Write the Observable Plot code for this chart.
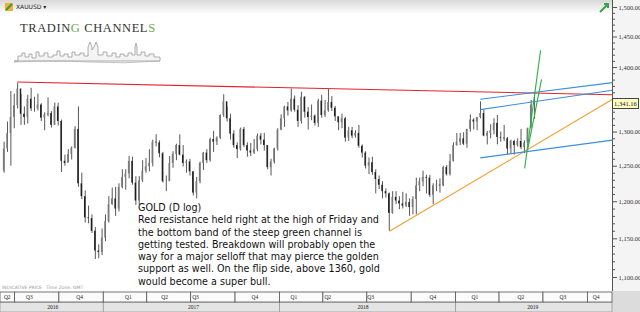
<!DOCTYPE html>
<html><head><meta charset="utf-8">
<script src="https://cdn.jsdelivr.net/npm/d3@7"></script>
<script src="https://cdn.jsdelivr.net/npm/@observablehq/plot@0.6"></script>
<style>
body{margin:0;background:#fff;}
#wrap{position:relative;width:640px;height:312px;overflow:hidden;background:#fff;}
#wrap > svg{position:absolute;left:0;background:transparent;}
.ov{position:absolute;white-space:nowrap;}
.ov svg{display:block;}
</style></head><body><div id="wrap">
<div class="ov" style="left:0;top:0;width:612px;height:14px;background:linear-gradient(#d8d8d8,#ffffff);"></div>
<div class="ov" style="left:612px;top:0;width:28px;height:291px;background:#f4f4f4;"></div>
<div class="ov" style="left:612px;top:291px;width:28px;height:21px;background:#dcdcdc;"></div>
</div>
<script>
// ---------------- data ----------------
const symbol = "XAUUSD";
const firstOpen = 1243;
const weekEnd = [
"2016-06-10","2016-06-17","2016-06-24","2016-07-01","2016-07-08","2016-07-15","2016-07-22","2016-07-29","2016-08-05","2016-08-12","2016-08-19","2016-08-26","2016-09-02","2016-09-09","2016-09-16","2016-09-23","2016-09-30","2016-10-07","2016-10-14","2016-10-21","2016-10-28","2016-11-04","2016-11-11","2016-11-18","2016-11-25","2016-12-02","2016-12-09","2016-12-16","2016-12-23","2016-12-30",
"2017-01-06","2017-01-13","2017-01-20","2017-01-27","2017-02-03","2017-02-10","2017-02-17","2017-02-24","2017-03-03","2017-03-10","2017-03-17","2017-03-24","2017-03-31","2017-04-07","2017-04-14","2017-04-21","2017-04-28","2017-05-05","2017-05-12","2017-05-19","2017-05-26","2017-06-02","2017-06-09","2017-06-16","2017-06-23","2017-06-30","2017-07-07","2017-07-14","2017-07-21","2017-07-28","2017-08-04","2017-08-11","2017-08-18","2017-08-25","2017-09-01","2017-09-08","2017-09-15","2017-09-22","2017-09-29","2017-10-06","2017-10-13","2017-10-20","2017-10-27","2017-11-03","2017-11-10","2017-11-17","2017-11-24","2017-12-01","2017-12-08","2017-12-15","2017-12-22","2017-12-29",
"2018-01-05","2018-01-12","2018-01-19","2018-01-26","2018-02-02","2018-02-09","2018-02-16","2018-02-23","2018-03-02","2018-03-09","2018-03-16","2018-03-23","2018-03-30","2018-04-06","2018-04-13","2018-04-20","2018-04-27","2018-05-04","2018-05-11","2018-05-18","2018-05-25","2018-06-01","2018-06-08","2018-06-15","2018-06-22","2018-06-29","2018-07-06","2018-07-13","2018-07-20","2018-07-27","2018-08-03","2018-08-10","2018-08-17","2018-08-24","2018-08-31","2018-09-07","2018-09-14","2018-09-21","2018-09-28","2018-10-05","2018-10-12","2018-10-19","2018-10-26","2018-11-02","2018-11-09","2018-11-16","2018-11-23","2018-11-30","2018-12-07","2018-12-14","2018-12-21","2018-12-28",
"2019-01-04","2019-01-11","2019-01-18","2019-01-25","2019-02-01","2019-02-08","2019-02-15","2019-02-22","2019-03-01","2019-03-08","2019-03-15","2019-03-22","2019-03-29","2019-04-05","2019-04-12","2019-04-19","2019-04-26","2019-05-03","2019-05-10","2019-05-17","2019-05-24","2019-05-31","2019-06-07","2019-06-14"];
const weekHigh = [
1285,1315,1362,1358,1375,1357,1338,1356,1367,1353,1358,1343,1329,1352,1331,1344,1344,1318,1266,1274,1278,1308,1338,1240,1215,1194,1182,1165,1142,1163,
1182,1207,1219,1220, 1225,1245,1245,1264, 1263,1235,1235,1258,1261, 1274,1288,1296,1287, 1270,1236,1264,1271, 1282,1296,1280,1259,1260, 1242,1234,1256,1270, 1274,1291,1301,1293, 1326,1357,1338,1327,1302, 1284,1306,1307,1284, 1283,1289,1297,1298, 1298,1280,1260,1276,1305,
1326,1339,1345,1366, 1355,1340,1361,1354, 1337,1341,1326,1350,1356, 1348,1365,1354,1339, 1323,1327,1322,1307, 1307,1302,1310,1281,1271, 1262,1263,1245,1236, 1228,1218,1212,1214,1214, 1207,1213,1211,1204, 1207,1233,1233,1243, 1237,1237,1225,1230,1232, 1250,1251,1267,1284,
1298,1298,1299,1304, 1326,1320,1322,1346, 1333,1301,1311,1320,1325, 1300,1310,1292,1288, 1288,1290,1304,1287,1306, 1348,1358];
const weekLow = [
1240,1270,1250,1305,1335,1310,1310,1312,1331,1330,1332,1316,1302,1323,1306,1310,1309,1241,1250,1255,1259,1275,1220,1203,1171,1170,1157,1123,1124,1128,
1146,1171,1195,1180, 1186,1218,1216,1232, 1223,1195,1196,1227,1240, 1242,1249,1278,1262, 1226,1214,1228,1247, 1258,1265,1249,1240,1236, 1208,1204,1225,1244, 1254,1256,1270,1280, 1289,1322,1315,1288,1276, 1261,1272,1277,1263, 1264,1267,1271,1281, 1272,1245,1236,1253,1272,
1302,1307,1324,1330, 1330,1307,1312,1321, 1303,1317,1309,1307,1321, 1322,1330,1331,1316, 1302,1305,1285,1286, 1290,1291,1276,1262,1246, 1238,1237,1211,1217, 1204,1205,1160,1183,1196, 1189,1190,1192,1180, 1182,1182,1214,1221, 1211,1206,1196,1214,1212, 1221,1236,1236,1256,
1279,1280,1280,1276, 1300,1303,1302,1320, 1293,1281,1290,1296,1281, 1285,1286,1266,1268, 1266,1278,1274,1268,1279, 1306,1319];
const weekClose = [
1275,1298,1322,1340,1366,1327,1322,1350,1335,1335,1341,1321,1326,1328,1310,1338,1316,1257,1254,1267,1276,1304,1225,1207,1178,1177,1160,1134,1132,1151,
1173,1196,1204,1190, 1220,1234,1239,1257, 1226,1201,1229,1243,1249, 1254,1285,1284,1268, 1228,1228,1254,1267, 1280,1266,1254,1256,1242, 1212,1228,1254,1269, 1258,1289,1285,1291, 1325,1346,1320,1297,1280, 1274,1304,1280,1272, 1269,1274,1294,1288, 1280,1248,1256,1275,1303,
1320,1338,1332,1350, 1333,1316,1353,1330, 1322,1324,1313,1347,1325, 1332,1345,1336,1323, 1314,1320,1291,1302, 1294,1298,1279,1269,1250, 1255,1241,1231,1223, 1214,1211,1184,1206,1201, 1197,1194,1199,1192, 1203,1222,1228,1234, 1233,1209,1222,1223,1222, 1248,1238,1257,1280,
1285,1290,1282,1304, 1318,1315,1322,1328, 1294,1298,1302,1313,1292, 1291,1290,1275,1286, 1280,1286,1277,1284,1305, 1341,1341.16];
const lastPrice = 1341.16;

// trend lines (date, price) pairs
const trendNames      = ["resistance","support","blueTop","blueMid","blueLow","greenA","greenB"];
const trendStartDate  = ["2016-07-06","2018-08-16","2019-02-20","2019-02-20","2019-02-20","2019-05-23","2019-05-29"];
const trendStartPrice = [1377, 1160, 1350, 1334, 1262, 1247, 1273];
const trendEndDate    = ["2019-11-21","2019-11-21","2019-11-21","2019-11-21","2019-11-21","2019-06-25","2019-06-27"];
const trendEndPrice   = [1357, 1350, 1376, 1364, 1288, 1428, 1381];

// axis ticks / labels
const priceTicks = [1100,1150,1200,1250,1300,1350,1400,1450,1500];
const quarterLabels = ["Q2","Q3","Q4","Q1","Q2","Q3","Q4","Q1","Q2","Q3","Q4","Q1","Q2","Q3","Q4"];
const quarterLabelDates = ["2016-06-15","2016-07-31","2016-11-12","2017-02-21","2017-05-07","2017-07-10","2017-11-10","2018-01-30","2018-04-10","2018-07-08","2018-11-14","2019-02-09","2019-05-15","2019-08-10","2019-10-18"];
const yearLabels = ["2016","2017","2018","2019"];
const yearLabelDates = ["2016-09-17","2017-07-06","2018-06-22","2019-06-09"];

const annotationLines = [
"GOLD (D log)",
"Red resistance held right at the high of Friday and",
"the bottom band of the steep green channel is",
"getting tested. Breakdown will probably open the",
"way for a major selloff that may pierce the golden",
"support as well. On the flip side, above 1360, gold",
"would become a super bull."];

// ---------------- styles ----------------
const trendColor = {resistance:"#e3232b", support:"#f2a02e", blueTop:"#3b8fdc", blueMid:"#3b8fdc", blueLow:"#3b8fdc", greenA:"#2fae48", greenB:"#2fae48"};
const parse = d3.utcParse("%Y-%m-%d");
const xDomain = [parse("2016-06-01"), parse("2019-11-21")];

const candles = weekEnd.map((d, i) => {
  const fri = parse(d);
  return {
    x1: d3.utcHour.offset(fri, -72), x2: d3.utcHour.offset(fri, 0), mid: d3.utcHour.offset(fri, -36),
    open: i ? weekClose[i - 1] : firstOpen, high: weekHigh[i], low: weekLow[i], close: weekClose[i]
  };
});
const trends = trendNames.map((n, i) => ({name: n, x1: parse(trendStartDate[i]), y1: trendStartPrice[i], x2: parse(trendEndDate[i]), y2: trendEndPrice[i]}));
const minorTicks = d3.range(1100, 1501, 10).filter(v => v % 50 !== 0);
const fmt = d3.format(",.2f");

const main = Plot.plot({
  width: 640, height: 291,
  marginLeft: 0, marginRight: 28, marginTop: 0, marginBottom: 0,
  style: {background: "transparent", fontFamily: "Liberation Serif", fontSize: "6.5px", color: "#333"},
  x: {type: "utc", domain: xDomain, axis: null},
  y: {type: "log", domain: [1100, 1500], range: [277, 7], axis: null},
  color: {type: "identity"},
  marks: [
    Plot.ruleX([xDomain[1]], {stroke: "#555"}),
    Plot.axisY({anchor: "right", ticks: minorTicks, tickSize: 2, tickFormat: () => "", stroke: "#555"}),
    // the 1,350.00 label sits under the last-price box in the reference, so it is left blank
    Plot.axisY({anchor: "right", ticks: priceTicks, tickSize: 4, tickPadding: 2, tickFormat: v => v === 1350 ? "" : fmt(v), stroke: "#555", fill: "#333"}),
    Plot.ruleX(candles, {x: "mid", y1: "low", y2: "high", stroke: "#444", strokeWidth: 0.9}),
    Plot.rectY(candles, {x1: "x1", x2: "x2", y1: "open", y2: "close", fill: d => d.close >= d.open ? "#7a7a7a" : "#1e1e1e"}),
    Plot.link(trends, {x1: "x1", y1: "y1", x2: "x2", y2: "y2", stroke: d => trendColor[d.name], strokeWidth: 1.1})
  ]
});
main.style.top = "0px";
const wrap = document.getElementById("wrap");
wrap.appendChild(main);

// bottom time axis
const quarterStarts = d3.utcMonth.every(3).range(parse("2016-04-01"), parse("2020-01-02"));
const quarterCells = quarterStarts.slice(0, -1).map((s, i) => ({x1: s < xDomain[0] ? xDomain[0] : s, x2: quarterStarts[i + 1] > xDomain[1] ? xDomain[1] : quarterStarts[i + 1]})).filter(d => d.x2 > d.x1);
const yearStarts = [parse("2016-01-01"), parse("2017-01-01"), parse("2018-01-01"), parse("2019-01-01"), parse("2020-01-01")];
const yearCells = yearStarts.slice(0, -1).map((s, i) => ({x1: s < xDomain[0] ? xDomain[0] : s, x2: yearStarts[i + 1] > xDomain[1] ? xDomain[1] : yearStarts[i + 1]}));

const bottom = Plot.plot({
  width: 640, height: 21,
  marginLeft: 0, marginRight: 28, marginTop: 0, marginBottom: 0,
  style: {background: "transparent", fontFamily: "Liberation Serif", fontSize: "5.5px", color: "#222"},
  x: {type: "utc", domain: xDomain, axis: null},
  y: {type: "band", domain: ["q", "y"], range: [0, 21], padding: 0, axis: null},
  marks: [
    Plot.barX(yearCells, {x1: "x1", x2: "x2", y: () => "y", fill: "#e4e4e4", stroke: "#9a9a9a", strokeWidth: 0.8, inset: 0}),
    Plot.barX(quarterCells, {x1: "x1", x2: "x2", y: () => "q", fill: "#fbfbfb", stroke: "#555", strokeWidth: 0.8, inset: 0}),
    Plot.text(quarterLabels, {x: (d, i) => parse(quarterLabelDates[i]), y: () => "q", text: d => d, fill: "#222"}),
    Plot.text(yearLabels, {x: (d, i) => parse(yearLabelDates[i]), y: () => "y", text: d => d, fill: "#222"})
  ]
});
bottom.style.top = "291px";
wrap.appendChild(bottom);

// overlays: header, logo, annotation, price label
function ov(html, css) { const d = document.createElement("div"); d.className = "ov"; d.style.cssText = css; d.innerHTML = html; wrap.appendChild(d); return d; }
ov('<svg width="8" height="8"><rect width="8" height="8" fill="#f0b030"/><path d="M1 7 L7 1" stroke="#3a9a3a" stroke-width="2"/></svg>', "left:5px;top:3px;width:8px;height:8px;");
ov(symbol + " &#9662;", "left:16px;top:2px;font:6px 'DejaVu Sans',sans-serif;color:#222;line-height:10px;");
ov('<svg width="10" height="10"><path d="M1 9 L9 1 M5 1 L9 1 L9 5" stroke="#3aa548" stroke-width="2" fill="none"/></svg>', "left:599px;top:3px;");
ov('TRADIN<span style="color:#6aaa4a">G</span> CHANNEL<span style="color:#6aaa4a">S</span>',
   "left:20px;top:21px;font:12.5px 'Liberation Serif',serif;letter-spacing:0.6px;color:#333;line-height:14px;");
// faint skyline sketch under the logo
ov('<svg width="150" height="24" viewBox="0 0 150 24"><path d="M0 20 L4 20 L4 15 L8 15 L8 12 L11 12 L11 16 L15 16 L15 13 L18 13 L18 17 L22 17 L22 11 L25 11 L25 15 L30 15 L30 12 L34 12 L34 16 L39 16 L39 14 L43 14 L43 10 L46 10 L46 15 L50 15 L50 13 L54 13 L54 16 L58 16 L58 11 L61 11 L61 14 L66 14 L66 12 L70 12 L70 15 L74 15 L74 6 L76 1 L78 6 L78 9 L80 6 L82 1 L84 6 L84 14 L89 14 L89 11 L93 11 L93 15 L98 15 L98 12 L102 12 L102 16 L106 16 L106 13 L110 13 L110 15 L114 15 L114 12 L118 12 L118 14 L121 14 L121 6 L122 2 L123 6 L123 14 L127 14 L127 11 L131 11 L131 15 L135 15 L135 13 L140 13 L140 16 L146 16 L146 20 Z" fill="#f4f4f4" stroke="#9a9a9a" stroke-width="0.8"/><path d="M0 21 Q40 19 75 21 T146 20" fill="none" stroke="#aaaaaa" stroke-width="0.7"/></svg>',
   "left:14px;top:41px;width:150px;height:24px;");
ov(annotationLines.join("<br>"), "left:138px;top:202px;font:9.6px 'DejaVu Sans',sans-serif;color:#111;line-height:12.3px;");
ov("INDICATIVE PRICE &nbsp; Time Zone: GMT", "left:2px;top:285px;font:4.5px 'DejaVu Sans',sans-serif;color:#999;line-height:6px;");
const py = main.scale("y").apply(lastPrice);
ov(fmt(lastPrice), `left:612px;top:${py - 6}px;width:27px;height:11px;box-sizing:border-box;border:1px solid #444;background:#ffffc4;font:6.5px 'Liberation Serif',serif;color:#111;line-height:9px;padding-left:1px;`);
</script></body></html>
